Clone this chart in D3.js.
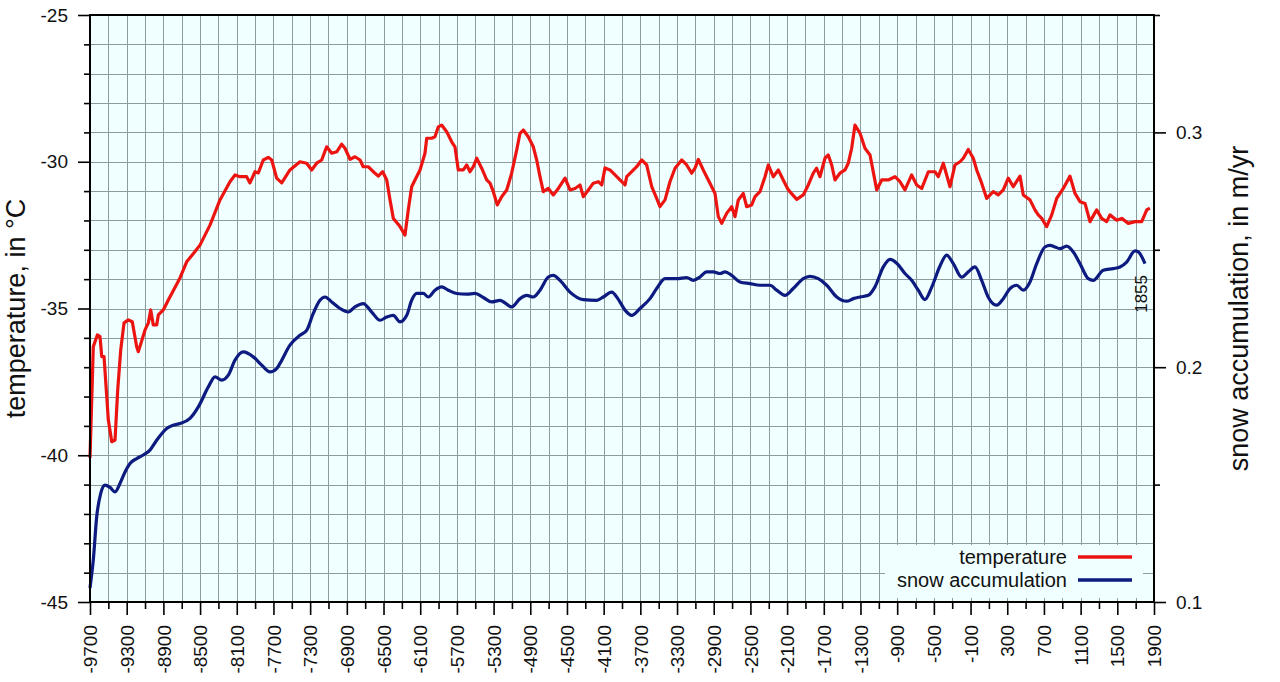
<!DOCTYPE html>
<html>
<head>
<meta charset="utf-8">
<script src="https://cdn.jsdelivr.net/npm/d3@7"></script>
<style>
  body { margin: 0; background: #fff; }
  svg text { font-family: "Liberation Sans", Arial, sans-serif; fill: #111; }
</style>
</head>
<body>
<div id="chart"></div>
<script>
// temperature (°C)
const tempYears = [-9700,-9664,-9620,-9591,-9572,-9547,-9500,-9463,-9427,-9398,-9365,-9329,-9282,-9239,-9191,-9173,-9144,-9100,-9064,-9038,-9010,-8973,-8955,-8901,-8846,-8719,-8646,-8555,-8501,-8392,-8283,-8174,-8119,-8065,-7992,-7956,-7901,-7865,-7811,-7756,-7719,-7665,-7610,-7520,-7411,-7338,-7283,-7229,-7174,-7120,-7065,-7010,-6956,-6920,-6865,-6811,-6756,-6721,-6666,-6611,-6557,-6509,-6465,-6429,-6393,-6320,-6266,-6230,-6193,-6157,-6102,-6048,-6029,-5975,-5939,-5903,-5866,-5811,-5757,-5721,-5685,-5630,-5593,-5557,-5521,-5484,-5430,-5375,-5339,-5303,-5260,-5212,-5157,-5103,-5048,-5012,-4976,-4922,-4867,-4830,-4794,-4758,-4703,-4649,-4594,-4521,-4467,-4412,-4358,-4322,-4267,-4213,-4158,-4121,-4085,-4031,-3976,-3922,-3867,-3849,-3794,-3740,-3685,-3631,-3576,-3522,-3486,-3431,-3377,-3322,-3249,-3195,-3140,-3104,-3068,-3014,-2941,-2886,-2850,-2813,-2759,-2704,-2668,-2632,-2578,-2541,-2486,-2450,-2396,-2341,-2305,-2251,-2196,-2142,-2087,-1995,-1924,-1869,-1815,-1778,-1742,-1687,-1651,-1614,-1578,-1524,-1469,-1433,-1396,-1360,-1305,-1251,-1196,-1123,-1069,-997,-924,-869,-815,-742,-687,-632,-560,-488,-452,-397,-324,-270,-215,-179,-125,-70,-33,21,76,148,202,257,311,366,439,475,548,602,638,676,730,785,839,911,984,1039,1093,1148,1202,1275,1330,1384,1420,1493,1548,1620,1693,1766,1821,1855];
const tempValues = [-40.09,-36.30,-35.90,-35.96,-36.64,-36.64,-38.80,-39.54,-39.48,-37.78,-36.41,-35.49,-35.39,-35.45,-36.30,-36.47,-36.18,-35.73,-35.49,-35.05,-35.56,-35.56,-35.22,-35.05,-34.71,-33.96,-33.41,-33.06,-32.84,-32.16,-31.30,-30.68,-30.45,-30.51,-30.51,-30.72,-30.34,-30.38,-29.94,-29.85,-29.94,-30.56,-30.72,-30.28,-30.00,-30.05,-30.28,-30.05,-29.94,-29.49,-29.71,-29.66,-29.40,-29.54,-29.92,-29.83,-29.94,-30.17,-30.17,-30.34,-30.49,-30.34,-30.62,-31.30,-31.93,-32.21,-32.50,-31.64,-30.85,-30.62,-30.28,-29.71,-29.20,-29.20,-29.15,-28.81,-28.75,-28.98,-29.32,-29.49,-30.28,-30.28,-30.11,-30.34,-30.17,-29.88,-30.22,-30.62,-30.73,-31.02,-31.47,-31.19,-30.96,-30.39,-29.60,-29.03,-28.92,-29.15,-29.49,-29.94,-30.51,-31.02,-30.91,-31.13,-30.91,-30.56,-30.96,-30.91,-30.79,-31.19,-30.96,-30.73,-30.68,-30.79,-30.21,-30.28,-30.45,-30.62,-30.79,-30.51,-30.34,-30.17,-29.94,-30.11,-30.85,-31.25,-31.53,-31.30,-30.68,-30.22,-29.94,-30.11,-30.39,-30.22,-29.92,-30.28,-30.73,-31.08,-31.87,-32.10,-31.76,-31.53,-31.87,-31.30,-31.08,-31.53,-31.47,-31.19,-31.02,-30.51,-30.11,-30.51,-30.28,-30.62,-30.96,-31.28,-31.13,-30.79,-30.39,-30.22,-30.51,-29.88,-29.77,-30.11,-30.62,-30.39,-30.28,-30.05,-29.54,-28.75,-29.03,-29.54,-29.77,-30.96,-30.62,-30.62,-30.51,-30.68,-30.96,-30.45,-30.79,-30.91,-30.34,-30.34,-30.51,-30.05,-30.85,-30.11,-30.00,-29.88,-29.58,-29.88,-30.28,-30.73,-31.25,-31.02,-31.13,-30.96,-30.56,-30.85,-30.49,-31.13,-31.30,-31.64,-31.81,-31.93,-32.21,-31.81,-31.25,-30.91,-30.49,-31.08,-31.36,-31.42,-32.04,-31.64,-31.93,-32.04,-31.81,-31.99,-31.93,-32.10,-32.04,-32.04,-31.64,-31.58];

// snow accumulation (m/yr)
const snowYears = [-9700,-9664,-9627,-9583,-9536,-9482,-9427,-9373,-9318,-9264,-9191,-9119,-9046,-8973,-8864,-8792,-8719,-8610,-8519,-8410,-8337,-8264,-8192,-8119,-8029,-7920,-7828,-7738,-7665,-7629,-7520,-7411,-7338,-7266,-7193,-7138,-7065,-6974,-6884,-6811,-6721,-6629,-6538,-6465,-6393,-6320,-6247,-6193,-6138,-6066,-6012,-5939,-5866,-5794,-5702,-5593,-5503,-5412,-5321,-5230,-5103,-5012,-4939,-4867,-4794,-4703,-4649,-4576,-4467,-4322,-4176,-4104,-4012,-3940,-3867,-3794,-3704,-3595,-3522,-3431,-3304,-3195,-3123,-3050,-2977,-2905,-2832,-2777,-2704,-2614,-2505,-2396,-2287,-2214,-2123,-2033,-1924,-1851,-1760,-1668,-1559,-1450,-1378,-1305,-1215,-1142,-1051,-978,-905,-815,-742,-670,-597,-524,-433,-360,-288,-197,-125,-52,21,93,185,257,330,403,475,548,621,711,766,820,875,948,1020,1093,1184,1238,1347,1456,1529,1602,1693,1729,1802];
const snowValues = [0.1060,0.1179,0.1363,0.1463,0.1498,0.1488,0.1469,0.1505,0.1554,0.1590,0.1611,0.1626,0.1647,0.1689,0.1739,0.1753,0.1760,0.1782,0.1831,0.1916,0.1959,0.1945,0.1966,0.2030,0.2065,0.2044,0.2009,0.1980,0.1994,0.2016,0.2094,0.2136,0.2157,0.2229,0.2285,0.2299,0.2278,0.2250,0.2235,0.2257,0.2271,0.2235,0.2200,0.2214,0.2221,0.2193,0.2221,0.2285,0.2314,0.2314,0.2299,0.2328,0.2342,0.2328,0.2314,0.2311,0.2314,0.2297,0.2278,0.2285,0.2257,0.2292,0.2306,0.2299,0.2328,0.2384,0.2391,0.2370,0.2320,0.2288,0.2285,0.2299,0.2320,0.2289,0.2243,0.2221,0.2250,0.2292,0.2335,0.2377,0.2377,0.2382,0.2370,0.2384,0.2406,0.2406,0.2399,0.2406,0.2391,0.2363,0.2356,0.2349,0.2349,0.2328,0.2306,0.2335,0.2377,0.2387,0.2377,0.2349,0.2299,0.2281,0.2292,0.2299,0.2306,0.2342,0.2427,0.2459,0.2443,0.2399,0.2370,0.2328,0.2288,0.2340,0.2431,0.2477,0.2441,0.2384,0.2406,0.2427,0.2370,0.2298,0.2264,0.2292,0.2335,0.2349,0.2328,0.2363,0.2441,0.2512,0.2519,0.2512,0.2505,0.2516,0.2491,0.2441,0.2377,0.2370,0.2413,0.2420,0.2427,0.2448,0.2495,0.2491,0.2441];

const xTicks = d3.range(-9700, 1901, 200);
const xLabels = d3.range(-9700, 1901, 400);
const tempTicks = d3.range(-45, -24, 1);
const tempLabels = [-45, -40, -35, -30, -25];
const snowTicks = [0.1, 0.15, 0.2, 0.25, 0.3, 0.35];
const snowLabels = [0.1, 0.2, 0.3];

const width = 1280, height = 682;
const mLeft = 90, mRight = 1154, mTop = 15, mBottom = 602;

const svg = d3.select("#chart").append("svg")
    .attr("width", width)
    .attr("height", height);

const x = d3.scaleLinear().domain([-9700, 1900]).range([mLeft, mRight]);
const yT = d3.scaleLinear().domain([-45, -25]).range([mBottom, mTop]);
const yS = d3.scaleLinear().domain([0.1, 0.35]).range([mBottom, mTop]);

// plot background
svg.append("rect")
    .attr("x", mLeft).attr("y", mTop)
    .attr("width", mRight - mLeft).attr("height", mBottom - mTop)
    .attr("fill", "#f0ffff");

// grid
const grid = svg.append("g").attr("stroke", "#8c9c9c").attr("stroke-width", 1);
grid.selectAll(".v").data(xTicks).enter().append("line")
    .attr("x1", d => Math.round(x(d)) + 0.5).attr("x2", d => Math.round(x(d)) + 0.5)
    .attr("y1", mTop).attr("y2", mBottom);
grid.selectAll(".h").data(tempTicks).enter().append("line")
    .attr("y1", d => Math.round(yT(d)) + 0.5).attr("y2", d => Math.round(yT(d)) + 0.5)
    .attr("x1", mLeft).attr("x2", mRight);

// legend background hides the grid behind it
svg.append("rect")
    .attr("x", 885).attr("y", 545)
    .attr("width", 258).attr("height", 53)
    .attr("fill", "#f0ffff");

// series
const tempData = d3.zip(tempYears, tempValues);
const snowData = d3.zip(snowYears, snowValues);

svg.append("path")
    .datum(snowData)
    .attr("fill", "none")
    .attr("stroke", "#0d1a80")
    .attr("stroke-width", 3.2)
    .attr("stroke-linejoin", "round")
    .attr("d", d3.line().curve(d3.curveMonotoneX).x(d => x(d[0])).y(d => yS(d[1])));

svg.append("path")
    .datum(tempData)
    .attr("fill", "none")
    .attr("stroke", "#ec1410")
    .attr("stroke-width", 3.2)
    .attr("stroke-linejoin", "round")
    .attr("d", d3.line().x(d => x(d[0])).y(d => yT(d[1])));

// frame
svg.append("rect")
    .attr("x", mLeft).attr("y", mTop)
    .attr("width", mRight - mLeft).attr("height", mBottom - mTop)
    .attr("fill", "none").attr("stroke", "#000").attr("stroke-width", 2);

// axes
const xAxis = svg.append("g")
    .attr("transform", `translate(0,${mBottom})`)
    .call(d3.axisBottom(x).tickValues(xTicks).tickSizeOuter(0).tickSize(13)
        .tickFormat(d => xLabels.includes(d) ? d : ""));
xAxis.select(".domain").remove();
xAxis.selectAll(".tick line")
    .attr("stroke-width", 1.6)
    .attr("y2", d => xLabels.includes(d) ? 13 : 7);
xAxis.selectAll(".tick text")
    .attr("transform", "rotate(-90)")
    .attr("x", -23).attr("y", 0).attr("dy", "0.35em")
    .attr("text-anchor", "end")
    .style("font-size", "19px");

const yAxisL = svg.append("g")
    .attr("transform", `translate(${mLeft},0)`)
    .call(d3.axisLeft(yT).tickValues(tempTicks).tickSizeOuter(0).tickSize(12)
        .tickFormat(d => tempLabels.includes(d) ? d : ""));
yAxisL.select(".domain").remove();
yAxisL.selectAll(".tick line")
    .attr("stroke-width", 1.6)
    .attr("x2", d => tempLabels.includes(d) ? -12 : -6);
yAxisL.selectAll(".tick text")
    .attr("x", -22)
    .style("font-size", "19px");

const yAxisR = svg.append("g")
    .attr("transform", `translate(${mRight},0)`)
    .call(d3.axisRight(yS).tickValues(snowTicks).tickSizeOuter(0).tickSize(12)
        .tickFormat(d => snowLabels.includes(d) ? d3.format(".1f")(d) : ""));
yAxisR.select(".domain").remove();
yAxisR.selectAll(".tick line")
    .attr("stroke-width", 1.6)
    .attr("x2", d => snowLabels.includes(d) ? 12 : 6);
yAxisR.selectAll(".tick text")
    .attr("x", 22)
    .style("font-size", "19px");

// axis titles
svg.append("text")
    .attr("transform", `translate(25,${(mTop + mBottom) / 2}) rotate(-90)`)
    .attr("text-anchor", "middle")
    .style("font-size", "27px")
    .text("temperature, in °C");

svg.append("text")
    .attr("transform", `translate(1248,${(mTop + mBottom) / 2}) rotate(-90)`)
    .attr("text-anchor", "middle")
    .style("font-size", "27px")
    .text("snow accumulation, in m/yr");

// end year label
svg.append("text")
    .attr("transform", `translate(${x(1855) - 3},275) rotate(-90)`)
    .attr("text-anchor", "end")
    .style("font-size", "17px")
    .text("1855");

// legend
const legendItems = [
    { name: "temperature", color: "#ec1410", y: 557 },
    { name: "snow accumulation", color: "#0d1a80", y: 580 }
];
legendItems.forEach(item => {
    svg.append("text")
        .attr("x", 1067).attr("y", item.y).attr("dy", "0.35em")
        .attr("text-anchor", "end")
        .style("font-size", "20px")
        .text(item.name);
    svg.append("line")
        .attr("x1", 1078).attr("x2", 1132)
        .attr("y1", item.y).attr("y2", item.y)
        .attr("stroke", item.color)
        .attr("stroke-width", 3.5);
});
</script>
</body>
</html>
